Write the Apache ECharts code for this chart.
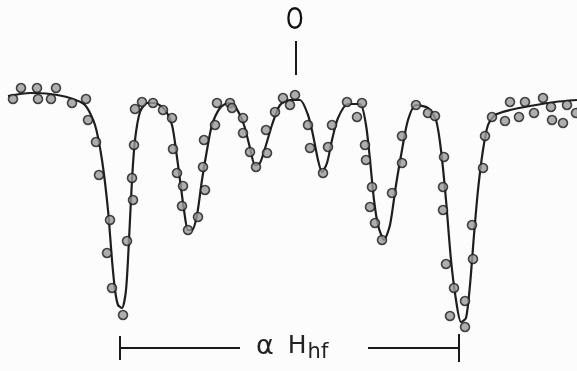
<!DOCTYPE html>
<html><head><meta charset="utf-8">
<script src="https://cdn.jsdelivr.net/npm/echarts@6/dist/echarts.min.js"></script>
<style>html,body{margin:0;padding:0;background:#fcfcfc}#c{width:577px;height:371px}</style>
</head><body><div id="c"></div>
<script>
// Measured points (x = channel, y = depth, larger = deeper absorption)
const pointsX = [13,21,37,38,51,56,72,86,88,96,99,110,107,112,123,127,132,133,134,135,142,153,163,172,173,177,183,182,188,198,205,203,204,215,217,230,232,243,243,250,256,267,266,275,283,295,290,308,310,323,328,332,347,362,357,365,366,372,370,375,382,392,402,402,416,428,435,444,443,443,446,454,450,465,465,473,472,483,485,492,505,510,519,525,534,543,551,552,563,567,576];
const pointsY = [99,88,88,99,99,88,103,99,120,142,175,220,253,288,315,241,178,200,145,109,102,103,110,118,149,173,186,206,230,217,190,167,140,125,103,103,108,118,133,152,167,153,130,112,98,95,105,125,148,173,147,125,102,103,117,145,160,187,207,223,240,193,163,136,105,113,116,157,187,210,264,288,316,327,301,259,225,168,136,117,121,102,117,102,113,98,107,120,123,105,113];
// Fitted curve
const curveX = [8,30,50,70,85,95,102,108,112,115,118,122,126,129,132,135,140,147,155,165,172,176,180,184,188,192,197,202,207,212,220,228,236,244,250,255,260,266,272,280,290,300,308,313,318,322,327,332,338,348,360,366,370,374,378,384,390,396,402,408,416,428,436,441,446,451,456,461,466,470,474,478,483,488,495,510,530,555,577];
const curveY = [96,93,94,98,105,125,160,210,260,290,305,308,290,240,180,140,112,103,103,110,125,150,180,210,230,230,215,180,150,125,108,103,108,125,148,165,163,145,125,105,100,100,115,135,160,172,163,140,118,104,104,125,160,200,225,240,225,185,150,120,105,108,120,150,200,260,300,322,318,285,235,190,150,125,115,110,106,102,100];
// Annotation positions (same units)
const zeroX = 296;
const bracketLeft = 120, bracketRight = 459, bracketY = 348;

const chart = echarts.init(document.getElementById('c'));
chart.setOption({
  backgroundColor: '#fcfcfc',
  animation: false,
  grid: {left: 0, right: 0, top: 0, bottom: 0},
  xAxis: {type: 'value', min: 0, max: 577, show: false},
  yAxis: {type: 'value', min: 0, max: 371, inverse: true, show: false},
  series: [
    {
      type: 'line', smooth: 0.25, showSymbol: false,
      data: curveX.map((x, i) => [x, curveY[i]]),
      lineStyle: {color: '#1e1e1e', width: 2.2},
      z: 2,
      markLine: {
        silent: true, symbol: 'none', label: {show: false},
        lineStyle: {color: '#1a1a1a', width: 2, type: 'solid'},
        data: [
          [{coord: [zeroX, 41]}, {coord: [zeroX, 75]}],
          [{coord: [bracketLeft, bracketY]}, {coord: [240, bracketY]}],
          [{coord: [368, bracketY]}, {coord: [bracketRight, bracketY]}],
          [{coord: [bracketLeft, 336]}, {coord: [bracketLeft, 360]}],
          [{coord: [bracketRight, 334]}, {coord: [bracketRight, 362]}]
        ]
      }
    },
    {
      type: 'scatter', symbol: 'circle', symbolSize: 9,
      data: pointsX.map((x, i) => [x, pointsY[i]]),
      itemStyle: {color: '#9a9a9a', borderColor: '#1a1a1a', borderWidth: 1.6},
      z: 3
    }
  ],
  graphic: [
    {type: 'text', x: 286, y: 5, scaleX: 0.72, style: {text: 'O', font: '31px "DejaVu Sans"', fill: '#111'}},
    {type: 'text', x: 256, y: 330, style: {
      text: '{a|α}{h|H}{s|hf}',
      rich: {
        a: {font: '27px "DejaVu Sans"', fill: '#222', padding: [0, 14, 0, 0]},
        h: {font: '25px "DejaVu Sans"', fill: '#222'},
        s: {font: '21px "DejaVu Sans"', fill: '#222', padding: [12, 0, 0, 1]}
      }
    }}
  ]
});
</script></body></html>
